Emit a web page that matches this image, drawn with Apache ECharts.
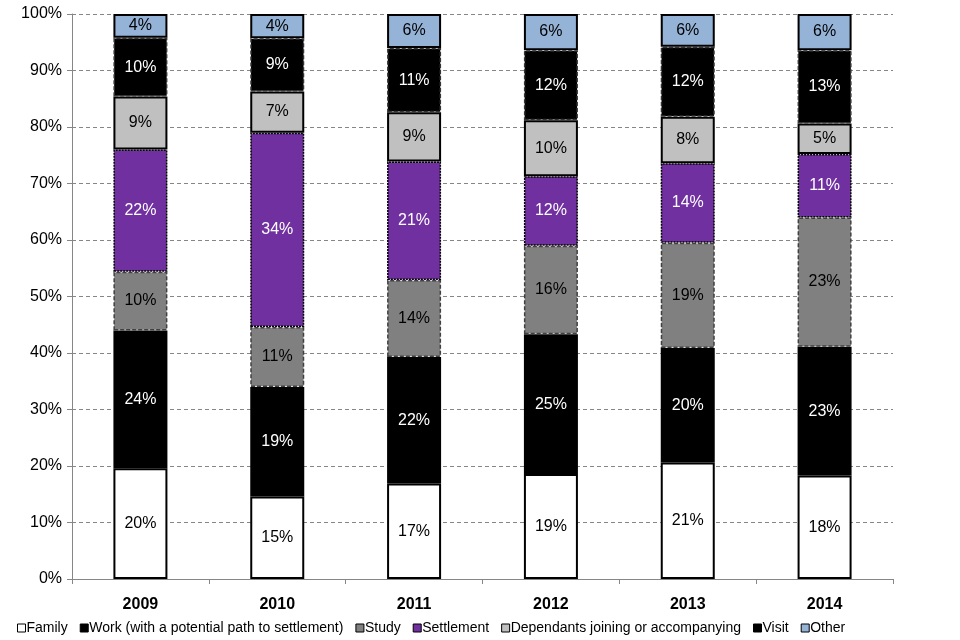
<!DOCTYPE html>
<html>
<head>
<meta charset="utf-8">
<script src="https://cdn.jsdelivr.net/npm/echarts@6/dist/echarts.min.js"></script>
<style>html,body{margin:0;padding:0;background:#fff;}#c{width:960px;height:640px;}</style>
</head>
<body>
<div id="c"></div>
<script>
const years = ['2009', '2010', '2011', '2012', '2013', '2014'];
const family      = [19.6, 14.6, 16.9, 18.6, 20.6, 18.3];
const work        = [24.4, 19.4, 22.4, 24.7, 20.3, 22.8];
const study       = [10.4, 10.6, 13.6, 15.7, 18.6, 22.9];
const settlement  = [21.6, 34.4, 21.0, 12.3, 14.1, 11.2];
const dependants  = [9.4, 7.3, 8.7, 9.9, 8.2, 5.4];
const visit       = [10.4, 9.4, 11.4, 12.4, 12.4, 13.0];
const other       = [4.2, 4.3, 6.0, 6.4, 5.8, 6.4];
const yTicks = [0, 10, 20, 30, 40, 50, 60, 70, 80, 90, 100];

const font = 'Liberation Sans, Arial, sans-serif';
function mk(name, data, color, labelColor, border) {
  return {
    name: name, type: 'bar', stack: 'total', data: data, barWidth: 54,
    itemStyle: Object.assign({ color: color }, border),
    label: {
      show: true, position: 'inside', color: labelColor, fontSize: 16, fontFamily: font,
      formatter: p => Math.round(p.value) + '%'
    }
  };
}
const chart = echarts.init(document.getElementById('c'), null, { renderer: 'canvas' });
chart.setOption({
  animation: false,
  backgroundColor: '#fff',
  grid: { left: 72, right: 67, top: 14, bottom: 61 },
  legend: {
    bottom: 0, left: 12, icon: 'rect', itemWidth: 8, itemHeight: 8, itemGap: 12,
    textStyle: { fontSize: 14, fontFamily: font, color: '#000', padding: [0, 0, 0, -4] },
    itemStyle: { borderColor: '#000', borderWidth: 1 },
    data: ['Family', 'Work (with a potential path to settlement)', 'Study', 'Settlement',
           'Dependants joining or accompanying', 'Visit', 'Other']
  },
  xAxis: {
    type: 'category', data: years,
    axisLine: { lineStyle: { color: '#868686', width: 1 } },
    axisTick: { show: true, length: 5, lineStyle: { color: '#868686' } },
    axisLabel: { fontSize: 16, fontWeight: 'bold', color: '#000', fontFamily: font, margin: 18 }
  },
  yAxis: {
    type: 'value', min: 0, max: 100, interval: 10,
    axisLine: { show: true, lineStyle: { color: '#868686' } },
    axisTick: { show: true, length: 5, lineStyle: { color: '#868686' } },
    splitLine: { lineStyle: { color: '#868686', type: [4, 3], width: 1 } },
    axisLabel: {
      fontSize: 16, color: '#000', fontFamily: font, margin: 10,
      formatter: v => (yTicks.indexOf(v) >= 0 ? v + '%' : '')
    }
  },
  series: [
    mk('Family', family, '#FFFFFF', '#000', { borderColor: '#000', borderWidth: 2 }),
    mk('Work (with a potential path to settlement)', work, '#000000', '#fff', { borderColor: '#000', borderWidth: 0 }),
    mk('Study', study, '#808080', '#000', { borderColor: '#404040', borderWidth: 1.5, borderType: [4, 2] }),
    mk('Settlement', settlement, '#7030A0', '#fff', { borderColor: '#000', borderWidth: 1.5, borderType: [2, 1] }),
    mk('Dependants joining or accompanying', dependants, '#C0C0C0', '#000', { borderColor: '#000', borderWidth: 2 }),
    mk('Visit', visit, '#000000', '#fff', { borderColor: '#333', borderWidth: 1.5, borderType: [4, 2] }),
    mk('Other', other, '#95B3D7', '#000', { borderColor: '#000', borderWidth: 2 })
  ]
});
</script>
</body>
</html>
